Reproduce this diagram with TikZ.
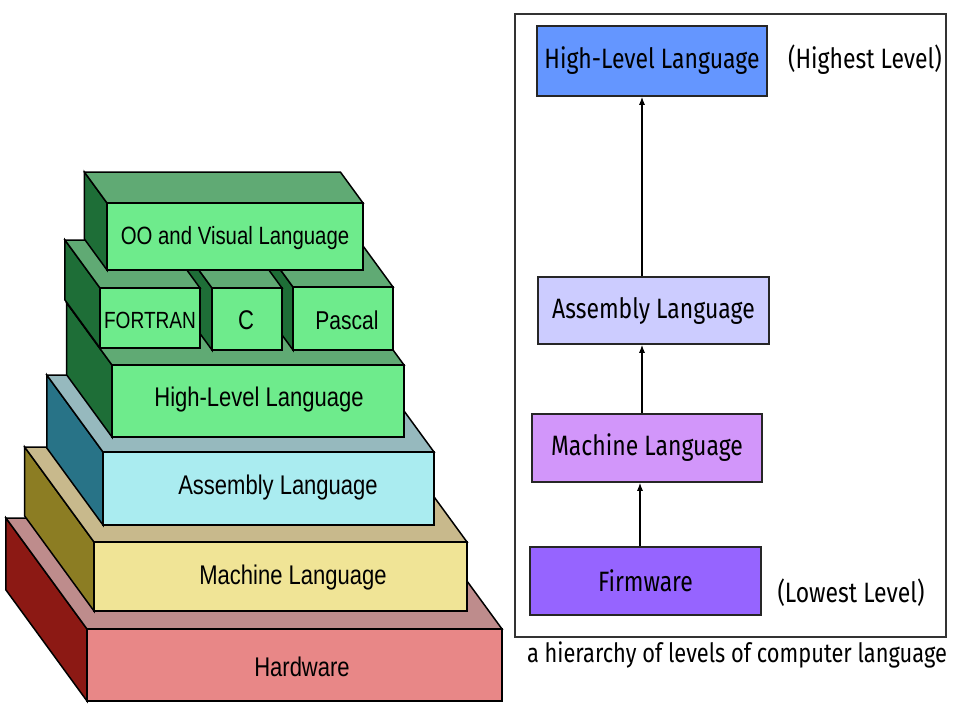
\documentclass[tikz,border=0pt]{standalone}
\usepackage{fontspec}
\usetikzlibrary{arrows.meta}
\newfontfamily\leftfont[FakeStretch=0.815]{Liberation Sans}
\newfontfamily\rightfont[FakeStretch=0.82]{Fira Sans}
% left stack colours
\definecolor{hwfront}{HTML}{E88787}\definecolor{hwside}{HTML}{8C1914}\definecolor{hwtop}{HTML}{BE8C8C}
\definecolor{mlfront}{HTML}{F0E496}\definecolor{mlside}{HTML}{8C7D23}\definecolor{mltop}{HTML}{C8B98C}
\definecolor{alfront}{HTML}{AAECF0}\definecolor{alside}{HTML}{287387}\definecolor{altop}{HTML}{96B9BE}
\definecolor{grfront}{HTML}{6EEB8C}\definecolor{grside}{HTML}{1E6E37}\definecolor{grtop}{HTML}{60AA74}
% right panel colours
\definecolor{rhl}{HTML}{6496FF}\definecolor{ral}{HTML}{CCCCFF}
\definecolor{rml}{HTML}{D296FA}\definecolor{rfw}{HTML}{9664FF}
% faces of one block: x1 y1 x2 y2 (front face, px, y down), depth, colour prefix
\newcommand\stackfaces[6]{%
  \filldraw[blkedge,fill=#6side] (#1,#2) -- (#1-0.73*#5,#2-#5) -- (#1-0.73*#5,#4-#5) -- (#1,#4) -- cycle;
  \filldraw[blkedge,fill=#6top] (#1,#2) -- (#1-0.73*#5,#2-#5) -- (#3-0.73*#5,#2-#5) -- (#3,#2) -- cycle;
  \filldraw[blkedge,fill=#6front] (#1,#2) rectangle (#3,#4);
}
\tikzset{
  blkedge/.style={draw=black,line width=0.75pt,line join=miter},
  ltext/.style={font=\leftfont\fontsize{13.5}{15}\selectfont,text=black,inner sep=0pt},
  rbox/.style={draw=black!85,line width=0.75pt,inner sep=0pt,font=\rightfont\fontsize{14}{16}\selectfont},
  rtext/.style={font=\rightfont\fontsize{14}{16}\selectfont,inner sep=0pt},
  arr/.style={-{Latex[length=4pt,width=3pt]},line width=0.6pt,black}
}
\begin{document}
\begin{tikzpicture}[x=0.5pt,y=-0.5pt]
\fill[white] (0,0) rectangle (960,720);
\useasboundingbox (0,0) rectangle (960,720);
% ---------- left stack ----------
\stackfaces{87}{629}{502}{701}{111}{hw}
\stackfaces{94}{542}{467}{611}{95}{ml}
\stackfaces{103}{452}{434}{525}{77}{al}
\stackfaces{112}{365}{404}{437}{62}{gr}
\stackfaces{293}{287}{393}{350}{48}{gr}
\stackfaces{212}{288}{282}{350}{48}{gr}
\stackfaces{100}{288}{200}{348}{48}{gr}
\stackfaces{107}{203}{363}{270}{31}{gr}
\node[ltext] (hw) at (302,667) {Hardware};
\node[ltext] (ml) at (293,578) {Machine Language};
\node[ltext] (al) at (278,488) {Assembly Language};
\node[ltext] (hll) at (259,400) {High-Level Language};
\node[ltext,font=\leftfont\fontsize{11.7}{13}\selectfont] (fort) at (150,320) {FORTRAN};
\node[ltext] (cc) at (246,320) {C};
\node[ltext,font=\leftfont\fontsize{12.9}{14}\selectfont] (pas) at (347,320) {Pascal};
\node[ltext,font=\leftfont\fontsize{12.5}{14}\selectfont] (oo) at (235,238) {OO and Visual Language};
% ---------- right panel ----------
\draw[draw=black!80,line width=0.8pt] (515,14) rectangle (946,637);
\node[rbox,fill=rhl,minimum width=115pt,minimum height=35pt] (rhl) at (652,61) {High-Level Language};
\node[rbox,fill=ral,minimum width=115.5pt,minimum height=33.5pt] (ral) at (653.5,310.5) {Assembly Language};
\node[rbox,fill=rml,minimum width=115pt,minimum height=34pt] (rml) at (647,448) {Machine Language};
\node[rbox,fill=rfw,minimum width=115.5pt,minimum height=34pt] (rfw) at (645.5,581) {Firmware};
\coordinate (ax1) at (642,0);
\coordinate (ax2) at (640,0);
\draw[arr] (ral.north -| ax1) -- (rhl.south -| ax1);
\draw[arr] (rml.north -| ax1) -- (ral.south -| ax1);
\draw[arr] (rfw.north -| ax2) -- (rml.south -| ax2);
\node[rtext] (hi) at (865,60) {(Highest Level)};
\node[rtext] (lo) at (851,593) {(Lowest Level)};
\node[rtext,font=\rightfont\fontsize{13.3}{15}\selectfont] (cap) at (737,655) {a hierarchy of levels of computer language};
\end{tikzpicture}
\end{document}
